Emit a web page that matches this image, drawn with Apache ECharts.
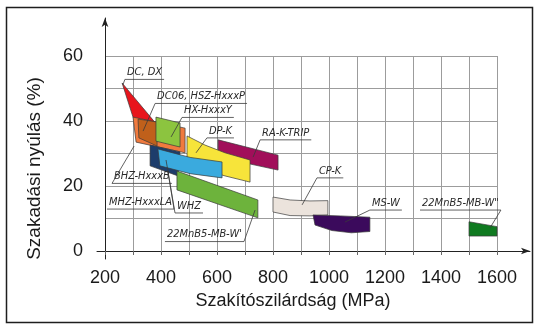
<!DOCTYPE html>
<html>
<head>
<meta charset="utf-8">
<script src="https://cdn.jsdelivr.net/npm/echarts/dist/echarts.min.js"></script>
<style>
  html, body { margin: 0; padding: 0; background: #fff; }
  #chart { width: 535px; height: 330px; }
</style>
</head>
<body>
<div id="chart"></div>
<script>
// Outline of each steel grade band: [tensile strength MPa, elongation %]
const dcDx       = [[261, 51.7], [388, 38.6], [340, 36.0], [300, 41.2]];
const bhz        = [[300, 41.2], [486, 37.8], [486, 30.2], [311, 33.5]];
const dc06Hsz    = [[318, 40.6], [386, 39.7], [386, 32.3], [321, 34.8]];
const hx         = [[382, 41.2], [468, 39.4], [468, 32.0], [382, 33.8]];
const raKTrip    = [[604, 34.2], [818, 29.5], [818, 24.9], [604, 28.9]];
const dpK        = [[493, 35.4], [557, 32.6], [629, 30.2], [718, 28.0],
                    [718, 21.2], [629, 23.1], [557, 24.9], [493, 27.1]];
const mhz        = [[361, 32.6], [468, 30.5], [461, 23.1], [361, 26.2]];
const whz        = [[389, 31.4], [504, 28.8], [618, 27.4],
                    [618, 22.5], [504, 23.8], [396, 26.2]];
const mnB5W1     = [[457, 24.6], [746, 15.7], [746, 10.2], [457, 18.8]];
const cpK        = [[800, 16.6], [861, 15.7], [932, 15.4], [996, 15.5],
                    [996, 11.1], [932, 10.8], [861, 10.9], [800, 12.0]];
const msW        = [[943, 11.1], [1040, 10.8], [1146, 10.4],
                    [1146, 6.0], [1080, 5.6], [1010, 6.3], [950, 8.0]];
const mnB5W2     = [[1500, 9.0], [1600, 7.5], [1600, 4.6], [1500, 4.6]];

// Axis tick values
const strengthTicks = [200, 400, 600, 800, 1000, 1200, 1400, 1600];
const elongationTicks = [0, 20, 40, 60];

// Bands in drawing order (back to front)
const bands = [
  { outline: dcDx,    color: '#e8151c' },
  { outline: bhz,     color: '#f07a3e' },
  { outline: dc06Hsz, color: '#c0601b' },
  { outline: hx,      color: '#8cc43f' },
  { outline: raKTrip, color: '#a10f5a' },
  { outline: dpK,     color: '#f7e43a' },
  { outline: mhz,     color: '#1d3d6b' },
  { outline: whz,     color: '#3aaade' },
  { outline: mnB5W1,  color: '#6db33c' },
  { outline: cpK,     color: '#ebe3dc' },
  { outline: msW,     color: '#3b0a5c' },
  { outline: mnB5W2,  color: '#0f7a20' }
];

// Grade labels: underline start, which end the leader leaves from, leader target
const notes = [
  { text: 'DC, DX',          at: [271, 52.8],  end: 'left',  to: [264, 51.1] },
  { text: 'DC06, HSZ-HxxxP', at: [379, 45.4],  end: 'left',  to: [336, 36.9] },
  { text: 'HX-HxxxY',        at: [475, 41.1],  end: 'left',  to: [436, 35.1] },
  { text: 'DP-K',            at: [564, 34.8],  end: 'left',  to: [525, 30.2] },
  { text: 'RA-K-TRIP',       at: [754, 34.2],  end: 'left',  to: [729, 28.9] },
  { text: 'BHZ-HxxxB',       at: [225, 20.8],  end: 'left',  to: [304, 32.3] },
  { text: 'MHZ-HxxxLA',      at: [207, 12.9],  end: 'right', to: [425, 24.3] },
  { text: 'WHZ',             at: [450, 11.7],  end: 'left',  to: [418, 28.0] },
  { text: "22MnB5-MB-W'",    at: [414, 2.9],   end: 'right', to: [736, 12.6] },
  { text: 'CP-K',            at: [957, 22.5],  end: 'left',  to: [904, 14.2] },
  { text: 'MS-W',            at: [1146, 12.6], end: 'left',  to: [1057, 8.9] },
  { text: '22MnB5-MB-W"',    at: [1325, 12.6], end: 'right', to: [1575, 7.1] }
];

const noteFont = 'italic 11px "Liberation Sans Narrow", "DejaVu Sans Condensed", sans-serif';
const measureCtx = document.createElement('canvas').getContext('2d');
measureCtx.font = noteFont;
const textWidth = s => measureCtx.measureText(s).width;

const axisFont = '"Liberation Sans", Arial, sans-serif';
const gridColor = '#9c9c9c';

const chart = echarts.init(document.getElementById('chart'), null, { renderer: 'canvas' });

chart.setOption({
  animation: false,
  backgroundColor: '#fff',
  grid: [
    { left: 105, top: 56, width: 392, height: 195 },   // plotting area
    { left: 97, top: 18, width: 433, height: 233 },    // strength axis line
    { left: 105, top: 18, width: 392, height: 241 }    // elongation axis line
  ],
  xAxis: [
    {
      gridIndex: 0, type: 'value',
      min: strengthTicks[0], max: strengthTicks[strengthTicks.length - 1], interval: 200,
      axisLine: { show: false },
      axisTick: { show: true, length: 4, lineStyle: { color: '#666' } },
      minorTick: { show: true, splitNumber: 2, length: 4, lineStyle: { color: '#666' } },
      splitLine: { show: true, lineStyle: { color: gridColor, width: 1 } },
      minorSplitLine: { show: true, lineStyle: { color: gridColor, width: 1 } },
      axisLabel: { margin: 18, fontSize: 18, color: '#1a1a1a', fontFamily: axisFont, formatter: v => String(v) },
      name: 'Szakítószilárdság (MPa)',
      nameLocation: 'middle', nameGap: 40,
      nameTextStyle: { fontSize: 18, color: '#1a1a1a', fontFamily: axisFont, padding: [0, 16, 0, 0] }
    },
    {
      gridIndex: 1, type: 'value', min: 171.4, max: 1718,
      axisLine: { show: true, symbol: ['none', 'arrow'], symbolSize: [5, 9], lineStyle: { color: '#222', width: 1 } },
      axisTick: { show: false }, axisLabel: { show: false }, splitLine: { show: false }
    },
    { gridIndex: 2, type: 'value', min: 200, max: 1600, show: false }
  ],
  yAxis: [
    {
      gridIndex: 0, type: 'value',
      min: elongationTicks[0], max: elongationTicks[elongationTicks.length - 1], interval: 20,
      axisLine: { show: false },
      axisTick: { show: false },
      splitLine: { show: true, lineStyle: { color: gridColor, width: 1 } },
      minorTick: { show: false, splitNumber: 2 },
      minorSplitLine: { show: true, lineStyle: { color: gridColor, width: 1 } },
      axisLabel: { margin: 22, fontSize: 18, color: '#1a1a1a', fontFamily: axisFont, formatter: v => String(v) },
      name: 'Szakadási nyúlás (%)',
      nameLocation: 'middle', nameGap: 61,
      nameTextStyle: { fontSize: 19, color: '#1a1a1a', fontFamily: axisFont, padding: [0, 30, 0, 0] }
    },
    { gridIndex: 1, type: 'value', min: 0, max: 1, show: false },
    {
      gridIndex: 2, type: 'value', min: -2.46, max: 71.7,
      axisLine: { show: true, symbol: ['none', 'arrow'], symbolSize: [5, 9], lineStyle: { color: '#222', width: 1 } },
      axisTick: { show: false }, axisLabel: { show: false }, splitLine: { show: false }
    }
  ],
  graphic: [
    {
      type: 'rect', silent: true, z: 100,
      shape: { x: 6.5, y: 7.5, width: 526, height: 315 },
      style: { fill: 'none', stroke: '#1e1e1e', lineWidth: 1.5 }
    }
  ],
  series: [
    {
      type: 'custom', xAxisIndex: 0, yAxisIndex: 0, clip: false, silent: true,
      data: bands.map(b => b.outline[0]),
      renderItem: (params, api) => {
        const band = bands[params.dataIndex];
        return {
          type: 'polygon',
          shape: { points: band.outline.map(p => api.coord(p)) },
          style: { fill: band.color, stroke: '#3a3a3a', lineWidth: 0.7 }
        };
      }
    },
    {
      type: 'custom', xAxisIndex: 0, yAxisIndex: 0, clip: false, silent: true, z: 5,
      data: notes.map(n => n.at),
      renderItem: (params, api) => {
        const n = notes[params.dataIndex];
        const a = api.coord(n.at);
        const t = api.coord(n.to);
        const w = textWidth(n.text) + 4;
        const start = n.end === 'left' ? [a[0], a[1]] : [a[0] + w, a[1]];
        return {
          type: 'group',
          children: [
            {
              type: 'text',
              style: {
                text: n.text, x: a[0] + 2, y: a[1] - 1.5,
                font: noteFont, fill: '#2a2a2a',
                align: 'left', verticalAlign: 'bottom'
              }
            },
            {
              type: 'line',
              shape: { x1: a[0], y1: a[1], x2: a[0] + w, y2: a[1] },
              style: { stroke: '#3a3a3a', lineWidth: 0.8 }
            },
            {
              type: 'line',
              shape: { x1: start[0], y1: start[1], x2: t[0], y2: t[1] },
              style: { stroke: '#3a3a3a', lineWidth: 0.8 }
            }
          ]
        };
      }
    }
  ]
});
</script>
</body>
</html>
